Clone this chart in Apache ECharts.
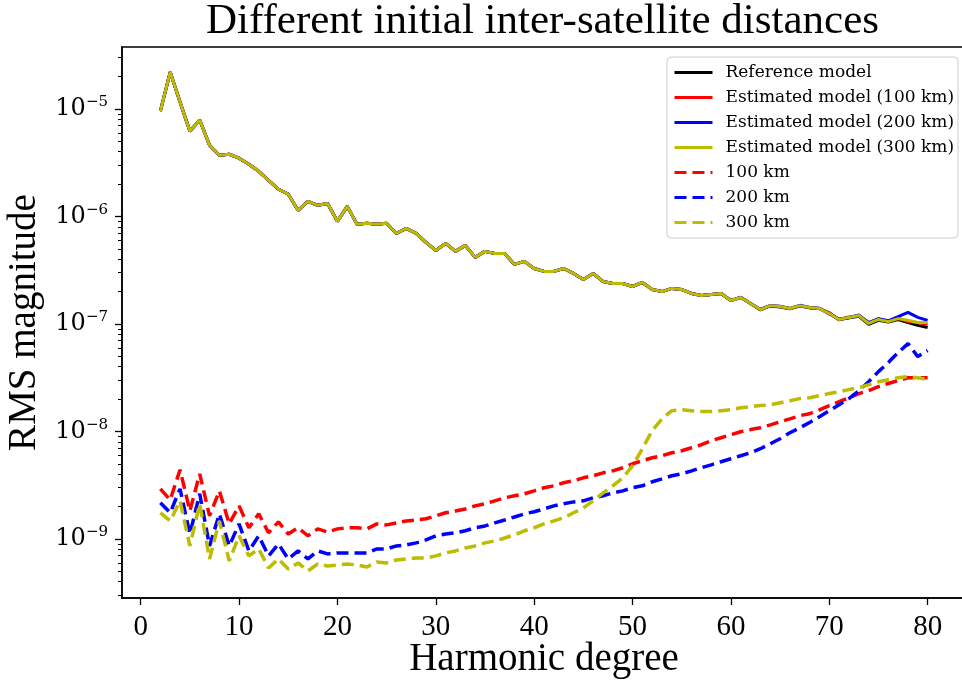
<!DOCTYPE html>
<html>
<head>
<meta charset="utf-8">
<title>Different initial inter-satellite distances</title>
<script src="https://cdn.jsdelivr.net/npm/echarts@6/dist/echarts.min.js"></script>
<style>
  html, body { margin: 0; padding: 0; background: #fff; }
  #main { width: 962px; height: 681px; }
</style>
</head>
<body>
<div id="main"></div>
<script>
// harmonic degrees 2..80
const degrees = [
  2, 3, 4, 5, 6, 7, 8, 9, 10, 11, 12, 13, 14, 15, 16, 17, 18, 19, 20, 21,
  22, 23, 24, 25, 26, 27, 28, 29, 30, 31, 32, 33, 34, 35, 36, 37, 38, 39, 40, 41,
  42, 43, 44, 45, 46, 47, 48, 49, 50, 51, 52, 53, 54, 55, 56, 57, 58, 59, 60, 61,
  62, 63, 64, 65, 66, 67, 68, 69, 70, 71, 72, 73, 74, 75, 76, 77, 78, 79, 80
];

// solid curves (they lie on top of each other up to ~70)
const refModel = [
  9.53e-6, 2.20e-5, 1.16e-5, 6.2e-6, 7.9e-6, 4.6e-6, 3.7e-6, 3.79e-6, 3.48e-6, 3.06e-6,
  2.63e-6, 2.17e-6, 1.79e-6, 1.61e-6, 1.14e-6, 1.38e-6, 1.27e-6, 1.32e-6, 9.0e-7, 1.24e-6,
  8.44e-7, 8.63e-7, 8.44e-7, 8.63e-7, 6.95e-7, 7.74e-7, 6.95e-7, 5.74e-7, 4.83e-7, 5.61e-7,
  4.73e-7, 5.38e-7, 4.16e-7, 4.73e-7, 4.53e-7, 4.53e-7, 3.58e-7, 3.82e-7, 3.28e-7, 3.08e-7,
  3.08e-7, 3.28e-7, 2.95e-7, 2.59e-7, 2.95e-7, 2.48e-7, 2.38e-7, 2.38e-7, 2.23e-7, 2.43e-7,
  2.09e-7, 2.00e-7, 2.14e-7, 2.09e-7, 1.92e-7, 1.84e-7, 1.88e-7, 1.92e-7, 1.65e-7, 1.76e-7,
  1.55e-7, 1.35e-7, 1.47e-7, 1.44e-7, 1.38e-7, 1.47e-7, 1.41e-7, 1.39e-7, 1.27e-7, 1.09e-7,
  1.14e-7, 1.18e-7, 9.9e-8, 1.08e-7, 1.04e-7, 1.10e-7, 1.03e-7, 9.7e-8, 9.25e-8
];
const est100 = [
  9.53e-6, 2.20e-5, 1.16e-5, 6.2e-6, 7.9e-6, 4.6e-6, 3.7e-6, 3.79e-6, 3.48e-6, 3.06e-6,
  2.63e-6, 2.17e-6, 1.79e-6, 1.61e-6, 1.14e-6, 1.38e-6, 1.27e-6, 1.32e-6, 9.0e-7, 1.24e-6,
  8.44e-7, 8.63e-7, 8.44e-7, 8.63e-7, 6.95e-7, 7.74e-7, 6.95e-7, 5.74e-7, 4.83e-7, 5.61e-7,
  4.73e-7, 5.38e-7, 4.16e-7, 4.73e-7, 4.53e-7, 4.53e-7, 3.58e-7, 3.82e-7, 3.28e-7, 3.08e-7,
  3.08e-7, 3.28e-7, 2.95e-7, 2.59e-7, 2.95e-7, 2.48e-7, 2.38e-7, 2.38e-7, 2.23e-7, 2.43e-7,
  2.09e-7, 2.00e-7, 2.14e-7, 2.09e-7, 1.92e-7, 1.84e-7, 1.88e-7, 1.92e-7, 1.65e-7, 1.76e-7,
  1.55e-7, 1.36e-7, 1.48e-7, 1.45e-7, 1.39e-7, 1.48e-7, 1.42e-7, 1.39e-7, 1.26e-7, 1.10e-7,
  1.16e-7, 1.19e-7, 1.02e-7, 1.11e-7, 1.06e-7, 1.13e-7, 1.05e-7, 1.03e-7, 9.9e-8
];
const est200 = [
  9.53e-6, 2.20e-5, 1.16e-5, 6.2e-6, 7.9e-6, 4.6e-6, 3.7e-6, 3.79e-6, 3.48e-6, 3.06e-6,
  2.63e-6, 2.17e-6, 1.79e-6, 1.61e-6, 1.14e-6, 1.38e-6, 1.27e-6, 1.32e-6, 9.0e-7, 1.24e-6,
  8.44e-7, 8.63e-7, 8.44e-7, 8.63e-7, 6.95e-7, 7.74e-7, 6.95e-7, 5.74e-7, 4.83e-7, 5.61e-7,
  4.73e-7, 5.38e-7, 4.16e-7, 4.73e-7, 4.53e-7, 4.53e-7, 3.58e-7, 3.82e-7, 3.28e-7, 3.08e-7,
  3.08e-7, 3.28e-7, 2.95e-7, 2.59e-7, 2.95e-7, 2.48e-7, 2.38e-7, 2.38e-7, 2.23e-7, 2.43e-7,
  2.09e-7, 2.00e-7, 2.14e-7, 2.09e-7, 1.92e-7, 1.84e-7, 1.88e-7, 1.92e-7, 1.65e-7, 1.77e-7,
  1.55e-7, 1.37e-7, 1.48e-7, 1.46e-7, 1.39e-7, 1.49e-7, 1.42e-7, 1.40e-7, 1.24e-7, 1.11e-7,
  1.14e-7, 1.21e-7, 1.03e-7, 1.12e-7, 1.07e-7, 1.17e-7, 1.28e-7, 1.15e-7, 1.08e-7
];
const est300 = [
  9.53e-6, 2.20e-5, 1.16e-5, 6.2e-6, 7.9e-6, 4.6e-6, 3.7e-6, 3.79e-6, 3.48e-6, 3.06e-6,
  2.63e-6, 2.17e-6, 1.79e-6, 1.61e-6, 1.14e-6, 1.38e-6, 1.27e-6, 1.32e-6, 9.0e-7, 1.24e-6,
  8.44e-7, 8.63e-7, 8.44e-7, 8.63e-7, 6.95e-7, 7.74e-7, 6.95e-7, 5.74e-7, 4.83e-7, 5.61e-7,
  4.73e-7, 5.38e-7, 4.16e-7, 4.73e-7, 4.53e-7, 4.53e-7, 3.58e-7, 3.82e-7, 3.28e-7, 3.08e-7,
  3.08e-7, 3.28e-7, 2.95e-7, 2.59e-7, 2.95e-7, 2.48e-7, 2.38e-7, 2.38e-7, 2.23e-7, 2.43e-7,
  2.09e-7, 2.00e-7, 2.14e-7, 2.09e-7, 1.92e-7, 1.84e-7, 1.88e-7, 1.92e-7, 1.65e-7, 1.76e-7,
  1.55e-7, 1.36e-7, 1.48e-7, 1.45e-7, 1.39e-7, 1.48e-7, 1.42e-7, 1.39e-7, 1.25e-7, 1.10e-7,
  1.15e-7, 1.20e-7, 1.01e-7, 1.10e-7, 1.05e-7, 1.12e-7, 1.08e-7, 1.03e-7, 1.03e-7
];

// dashed curves: difference for each distance
const diff100 = [
  2.92e-9, 2.31e-9, 4.40e-9, 1.82e-9, 4.03e-9, 1.64e-9, 2.80e-9, 1.38e-9, 2.03e-9, 1.27e-9,
  1.71e-9, 1.14e-9, 1.44e-9, 1.11e-9, 1.27e-9, 1.07e-9, 1.24e-9, 1.16e-9, 1.24e-9, 1.27e-9,
  1.27e-9, 1.24e-9, 1.38e-9, 1.35e-9, 1.41e-9, 1.47e-9, 1.50e-9, 1.54e-9, 1.64e-9, 1.75e-9,
  1.82e-9, 1.90e-9, 2.03e-9, 2.12e-9, 2.26e-9, 2.41e-9, 2.52e-9, 2.63e-9, 2.80e-9, 2.99e-9,
  3.12e-9, 3.33e-9, 3.47e-9, 3.70e-9, 3.87e-9, 4.12e-9, 4.30e-9, 4.59e-9, 5.00e-9, 5.33e-9,
  5.69e-9, 5.94e-9, 6.33e-9, 6.61e-9, 7.05e-9, 7.52e-9, 8.19e-9, 8.73e-9, 9.31e-9, 9.93e-9,
  1.04e-8, 1.08e-8, 1.15e-8, 1.23e-8, 1.31e-8, 1.40e-8, 1.46e-8, 1.59e-8, 1.74e-8, 1.89e-8,
  2.06e-8, 2.25e-8, 2.39e-8, 2.61e-8, 2.79e-8, 2.97e-8, 3.16e-8, 3.16e-8, 3.16e-8
];
const diff200 = [
  2.17e-9, 1.75e-9, 2.92e-9, 1.11e-9, 2.63e-9, 8.6e-10, 1.71e-9, 8.6e-10, 1.38e-9, 7.73e-10,
  1.07e-9, 6.95e-10, 8.98e-10, 6.51e-10, 7.73e-10, 6.51e-10, 7.73e-10, 7.25e-10, 7.41e-10, 7.41e-10,
  7.41e-10, 7.41e-10, 8.07e-10, 8.07e-10, 8.6e-10, 8.79e-10, 9.18e-10, 9.79e-10, 1.07e-9, 1.11e-9,
  1.14e-9, 1.19e-9, 1.27e-9, 1.32e-9, 1.41e-9, 1.50e-9, 1.60e-9, 1.71e-9, 1.79e-9, 1.90e-9,
  2.03e-9, 2.12e-9, 2.21e-9, 2.26e-9, 2.41e-9, 2.52e-9, 2.68e-9, 2.80e-9, 2.99e-9, 3.12e-9,
  3.40e-9, 3.62e-9, 3.87e-9, 4.03e-9, 4.30e-9, 4.59e-9, 4.89e-9, 5.22e-9, 5.57e-9, 5.94e-9,
  6.33e-9, 6.90e-9, 7.68e-9, 8.55e-9, 9.72e-9, 1.08e-8, 1.21e-8, 1.37e-8, 1.56e-8, 1.77e-8,
  2.02e-8, 2.39e-8, 2.90e-8, 3.60e-8, 4.37e-8, 5.41e-8, 6.56e-8, 4.97e-8, 5.65e-8
];
const diff300 = [
  1.75e-9, 1.47e-9, 2.26e-9, 8.6e-10, 2.12e-9, 6.51e-10, 1.47e-9, 6.24e-10, 1.07e-9, 6.95e-10,
  8.07e-10, 5.37e-10, 6.51e-10, 5.25e-10, 5.98e-10, 5.03e-10, 5.85e-10, 5.60e-10, 5.72e-10, 5.85e-10,
  5.72e-10, 5.48e-10, 6.10e-10, 5.98e-10, 6.37e-10, 6.51e-10, 6.65e-10, 6.65e-10, 6.95e-10, 7.41e-10,
  7.73e-10, 8.24e-10, 8.6e-10, 9.18e-10, 9.58e-10, 1.02e-9, 1.09e-9, 1.19e-9, 1.27e-9, 1.38e-9,
  1.47e-9, 1.57e-9, 1.75e-9, 1.94e-9, 2.26e-9, 2.68e-9, 3.12e-9, 3.70e-9, 4.79e-9, 6.90e-9,
  1.02e-8, 1.31e-8, 1.56e-8, 1.59e-8, 1.56e-8, 1.53e-8, 1.53e-8, 1.56e-8, 1.59e-8, 1.66e-8,
  1.70e-8, 1.74e-8, 1.77e-8, 1.85e-8, 1.93e-8, 2.02e-8, 2.06e-8, 2.15e-8, 2.25e-8, 2.34e-8,
  2.45e-8, 2.55e-8, 2.72e-8, 2.90e-8, 3.03e-8, 3.16e-8, 3.23e-8, 3.16e-8, 3.03e-8
];

const xTicks = [0, 10, 20, 30, 40, 50, 60, 70, 80];
const xMin = -1.9;
const xMax = 83.9;
const yMin = 2.82e-10;
const yMax = 3.77e-5;

const colors = { ref: '#000000', r: '#ff0000', b: '#0000ff', y: '#bcbc00' };

// minor ticks (2..9 x 10^n) on a hidden linear axis in log10 units
const minorTickExp = [];
for (let n = -10; n <= -5; n++) {
  for (let k = 2; k <= 9; k++) {
    const e = n + Math.log10(k);
    if (e > Math.log10(yMin) && e < Math.log10(yMax)) minorTickExp.push(e);
  }
}

function pairs(values) {
  return degrees.map((d, i) => [d, values[i]]);
}

function solidSeries(name, values, color) {
  return {
    name, type: 'line', data: pairs(values), symbol: 'none',
    lineStyle: { color, width: 3 }, itemStyle: { color },
    emphasis: { disabled: true }
  };
}
function dashedSeries(name, values, color) {
  return {
    name, type: 'line', data: pairs(values), symbol: 'none',
    lineStyle: { color, width: 3.5, type: [12, 6] }, itemStyle: { color },
    emphasis: { disabled: true }
  };
}

const chart = echarts.init(document.getElementById('main'), null, { renderer: 'canvas' });
chart.setOption({
  animation: false,
  backgroundColor: '#fff',
  title: {
    text: 'Different initial inter-satellite distances',
    left: 206,
    top: 0,
    padding: 0,
    textStyle: { fontFamily: 'Liberation Serif', fontSize: 43, fontWeight: 'normal', color: '#000' }
  },
  grid: {
    left: 122, top: 47, width: 844, height: 551,
    outerBoundsMode: 'none',
    show: true, borderColor: '#000', borderWidth: 1.5, backgroundColor: 'transparent'
  },
  legend: {
    orient: 'vertical',
    left: 667, top: 57,
    itemWidth: 38, itemHeight: 14, itemGap: 6,
    padding: [6, 4, 6, 6],
    borderColor: '#cccccc', borderWidth: 1, borderRadius: 4,
    backgroundColor: 'rgba(255,255,255,0.85)',
    itemStyle: { opacity: 0 },
    lineStyle: { width: 3 },
    textStyle: { fontFamily: 'DejaVu Serif', fontSize: 17, lineHeight: 19, color: '#000', padding: [0, 0, 0, 8] },
    data: ['Reference model', 'Estimated model (100 km)', 'Estimated model (200 km)',
      'Estimated model (300 km)', '100 km', '200 km', '300 km']
  },
  xAxis: {
    type: 'value', min: xMin, max: xMax,
    name: 'Harmonic degree', nameLocation: 'middle', nameGap: 42, nameMoveOverlap: false,
    nameTextStyle: { fontFamily: 'Liberation Serif', fontSize: 39, color: '#000' },
    axisLine: { onZero: false, lineStyle: { color: '#000', width: 1.5 } },
    axisTick: { customValues: xTicks, length: 7, lineStyle: { color: '#000', width: 1.3 } },
    axisLabel: { customValues: xTicks, margin: 15, fontFamily: 'Liberation Serif', fontSize: 29, color: '#000' },
    splitLine: { show: false }
  },
  yAxis: [
    {
      type: 'log', min: yMin, max: yMax,
      name: 'RMS magnitude', nameLocation: 'middle', nameGap: 78, nameRotate: 90, nameMoveOverlap: false,
      nameTextStyle: { fontFamily: 'Liberation Serif', fontSize: 39, color: '#000' },
      axisLine: { onZero: false, lineStyle: { color: '#000', width: 1.5 } },
      axisTick: { length: 7, lineStyle: { color: '#000', width: 1.3 } },
      axisLabel: {
        margin: 14, showMinLabel: false, showMaxLabel: false, color: '#000',
        formatter: (v) => '{b|10}{s|\u2212' + Math.abs(Math.round(Math.log10(v))) + '}',
        rich: {
          b: { fontFamily: 'DejaVu Serif', fontSize: 24, color: '#000', lineHeight: 28 },
          s: { fontFamily: 'DejaVu Serif', fontSize: 15, color: '#000', verticalAlign: 'top', lineHeight: 15 }
        }
      },
      splitLine: { show: false }
    },
    {
      type: 'value', min: Math.log10(yMin), max: Math.log10(yMax), position: 'left',
      axisLine: { show: false, onZero: false },
      axisTick: { customValues: minorTickExp, length: 4, lineStyle: { color: '#000', width: 1 } },
      axisLabel: { show: false },
      splitLine: { show: false }
    }
  ],
  series: [
    solidSeries('Reference model', refModel, colors.ref),
    solidSeries('Estimated model (100 km)', est100, colors.r),
    solidSeries('Estimated model (200 km)', est200, colors.b),
    solidSeries('Estimated model (300 km)', est300, colors.y),
    dashedSeries('100 km', diff100, colors.r),
    dashedSeries('200 km', diff200, colors.b),
    dashedSeries('300 km', diff300, colors.y)
  ]
});
</script>
</body>
</html>
